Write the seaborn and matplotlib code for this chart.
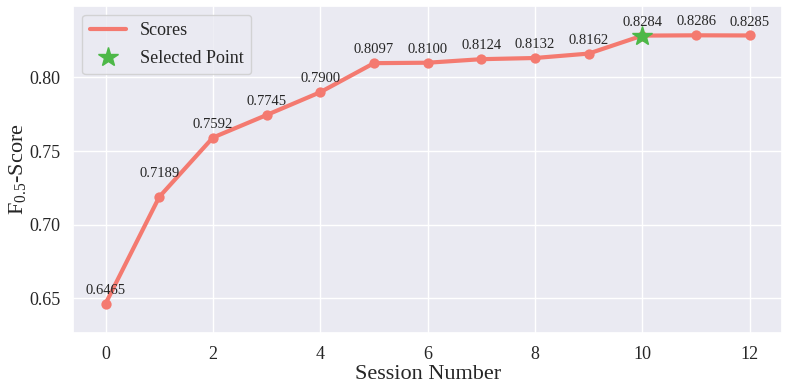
import numpy as np
import pandas as pd
import matplotlib
matplotlib.use('Agg')
import matplotlib.pyplot as plt
import seaborn as sns

sessions = list(range(13))
scores = [0.6465, 0.7189, 0.7592, 0.7745, 0.7900, 0.8097, 0.8100,
          0.8124, 0.8132, 0.8162, 0.8284, 0.8286, 0.8285]
selected_idx = 10

LINE_COLOR = '#F47A70'
STAR_COLOR = '#4DB848'

sns.set_theme(style='darkgrid')
plt.rcParams['font.family'] = ['Liberation Serif', 'DejaVu Serif']
plt.rcParams['mathtext.fontset'] = 'custom'
plt.rcParams['mathtext.rm'] = 'Liberation Serif'
plt.rcParams['mathtext.it'] = 'Liberation Serif:italic'

df = pd.DataFrame({'session': sessions, 'score': scores})

fig, ax = plt.subplots(figsize=(7.89, 3.9), dpi=100)
sns.lineplot(data=df, x='session', y='score', color=LINE_COLOR, linewidth=3,
             label='Scores', ax=ax)
sns.scatterplot(data=df, x='session', y='score', color=LINE_COLOR, s=55,
                linewidth=0, legend=False, ax=ax, zorder=3)
ax.plot(sessions[selected_idx], scores[selected_idx], marker='*', color=STAR_COLOR,
        markersize=15, linestyle='none', label='Selected Point', zorder=5)

for s, v in zip(sessions, scores):
    dy = 12 if s == 1 else 5
    ax.annotate(f'{v:.4f}', (s, v), textcoords='offset points', xytext=(0, dy),
                ha='center', va='bottom', fontsize=10.5)

ax.set_ylim(min(scores) - 0.02, max(scores) + 0.02)
ax.set_xticks(range(0, 13, 2))
ax.set_yticks([0.65, 0.70, 0.75, 0.80])
ax.yaxis.set_major_formatter(matplotlib.ticker.FormatStrFormatter('%.2f'))
ax.tick_params(axis='both', labelsize=13)
ax.set_xlabel('Session Number', fontsize=16, labelpad=1)
ax.set_ylabel('F$_{0.5}$-Score', fontsize=16, labelpad=1)
ax.legend(loc='upper left', fontsize=13, labelspacing=0.6)

fig.subplots_adjust(left=0.093, right=0.991, top=0.985, bottom=0.146)
fig.savefig('out.png', dpi=100)
